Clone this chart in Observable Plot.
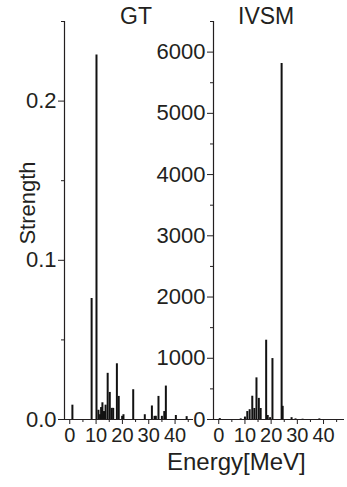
<!DOCTYPE html>
<html>
<head>
<meta charset="utf-8">
<script src="https://cdn.jsdelivr.net/npm/d3@7"></script>
<script src="https://cdn.jsdelivr.net/npm/@observablehq/plot@0.6"></script>
<style>
  html, body { margin: 0; padding: 0; background: white; }
  #wrap { position: relative; width: 347px; height: 487px; font-family: "Liberation Sans", Arial, Helvetica, sans-serif; color: #231f20; }
  #wrap svg { position: absolute; left: 0; top: 0; }
  .lbl { position: absolute; white-space: nowrap; line-height: 1; }
</style>
</head>
<body>
<div id="wrap"></div>
<script>
// GT strength distribution (energy in MeV, strength)
const gtEnergy   = [1.0, 8.3, 10.15, 10.9, 11.5, 11.9, 12.4, 13.0, 13.6, 14.4, 15.2, 15.9, 16.5, 17.9, 18.6, 19.9, 20.4, 24.1, 28.5, 31.2, 32.2, 32.7, 33.7, 35.0, 35.9, 36.5, 40.3, 44.4];
const gtStrength = [0.009, 0.076, 0.229, 0.0058, 0.003, 0.0075, 0.0105, 0.005, 0.009, 0.029, 0.017, 0.007, 0.007, 0.035, 0.0145, 0.002, 0.003, 0.0187, 0.003, 0.0085, 0.002, 0.002, 0.0145, 0.002, 0.005, 0.021, 0.0025, 0.0018];

// IVSM strength distribution
const ivEnergy   = [0.4, 8.4, 10.0, 10.9, 11.8, 12.8, 13.6, 14.4, 15.3, 16.0, 18.1, 18.7, 19.6, 20.5, 24.0, 24.4, 27.8, 29.3, 32.0, 38.4];
const ivStrength = [15, 10, 40, 130, 160, 380, 180, 680, 345, 180, 1295, 65, 30, 995, 5815, 215, 30, 10, 5, 10];

const xMajor = [0, 10, 20, 30, 40];
const xMinor = [5, 15, 25, 35, 45];
const gtMajor = [0.0, 0.1, 0.2];
const gtMinor = [0.05, 0.15, 0.25];
const ivMajor = [0, 1000, 2000, 3000, 4000, 5000, 6000];
const ivMinor = [500, 1500, 2500, 3500, 4500, 5500, 6500];

const gtData = gtEnergy.map((e, i) => ({e, s: gtStrength[i]}));
const ivData = ivEnergy.map((e, i) => ({e, s: ivStrength[i]}));

const FONT = '"Liberation Sans", Arial, Helvetica, sans-serif';
const INK = "#231f20";
const YFS = 22;
const XFS = 20;

function panel(data, opts) {
  return Plot.plot({
    width: 347,
    height: 487,
    marginLeft: opts.ml,
    marginRight: opts.mr,
    marginTop: 21,
    marginBottom: 68,
    style: {background: "transparent", fontFamily: FONT, fontSize: YFS + "px", color: INK, overflow: "visible"},
    x: {domain: opts.xd},
    y: {domain: opts.yd},
    marks: [
      Plot.ruleX(data, {x: "e", y1: 0, y2: "s", stroke: "#111", strokeWidth: 2}),
      Plot.ruleY([opts.yd[0]], {stroke: INK, strokeWidth: 1.2}),
      Plot.ruleX([opts.xd[0]], {stroke: INK, strokeWidth: 1.2}),
      Plot.axisX({ticks: xMajor, tickSize: 5, tickPadding: 3, label: null, tickFormat: d3.format("d"), fontSize: XFS, fontFamily: FONT, stroke: INK, fill: INK}),
      Plot.axisX({ticks: xMinor, tickSize: 3, label: null, tickFormat: () => "", stroke: INK}),
      Plot.axisY({ticks: opts.yMajor, tickSize: 6, tickPadding: 2, label: null, tickFormat: opts.fmt, fontSize: YFS, fontFamily: FONT, stroke: INK, fill: INK}),
      Plot.axisY({ticks: opts.yMinor, tickSize: 3, label: null, tickFormat: () => "", stroke: INK})
    ]
  });
}

const wrap = document.getElementById("wrap");
wrap.appendChild(panel(gtData, {ml: 64, mr: 154, xd: [-2, 47], yd: [0, 0.25], yMajor: gtMajor, yMinor: gtMinor, fmt: d3.format(".1f")}));
wrap.appendChild(panel(ivData, {ml: 213, mr: 3, xd: [-2, 48], yd: [0, 6500], yMajor: ivMajor, yMinor: ivMinor, fmt: d3.format("d")}));

function label(text, css) {
  const d = document.createElement("div");
  d.className = "lbl";
  d.textContent = text;
  Object.assign(d.style, css);
  wrap.appendChild(d);
}
label("GT", {left: "120px", top: "5px", fontSize: "23px"});
label("IVSM", {left: "238px", top: "5px", fontSize: "23px"});
label("Energy[MeV]", {left: "167px", top: "450px", fontSize: "24px"});
label("Strength", {left: "28px", top: "203px", fontSize: "22px", transform: "translate(-50%, -50%) rotate(-90deg)"});
</script>
</body>
</html>
